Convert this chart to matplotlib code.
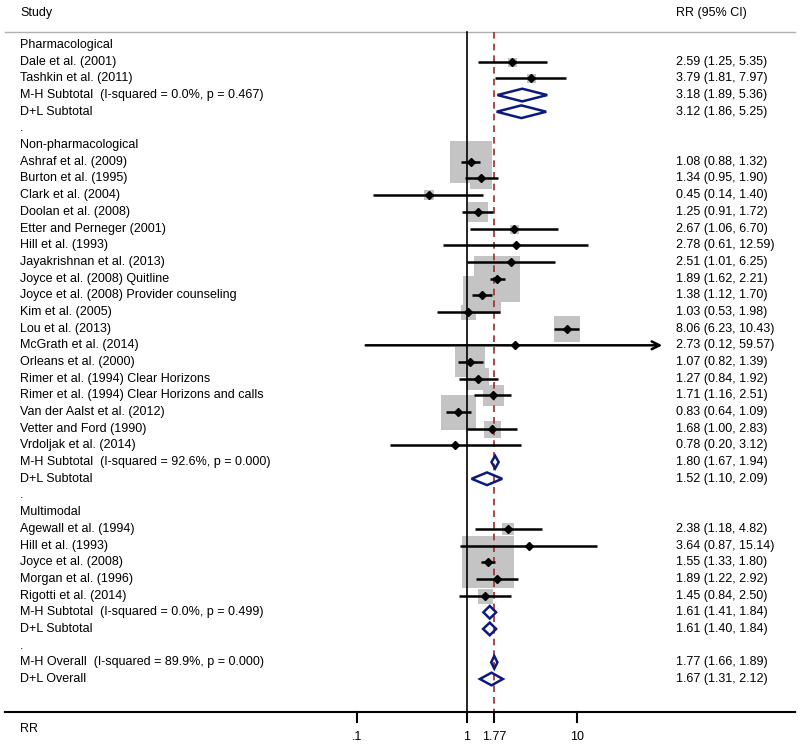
import numpy as np
import matplotlib.pyplot as plt
from matplotlib.patches import Polygon

plt.rcParams['font.family'] = ['Liberation Sans', 'DejaVu Sans']

# rows of the forest plot, top to bottom
labels = [
    'Pharmacological', 'Dale et al. (2001)', 'Tashkin et al. (2011)',
    'M-H Subtotal  (I-squared = 0.0%, p = 0.467)', 'D+L Subtotal', '.',
    'Non-pharmacological', 'Ashraf et al. (2009)', 'Burton et al. (1995)',
    'Clark et al. (2004)', 'Doolan et al. (2008)', 'Etter and Perneger (2001)',
    'Hill et al. (1993)', 'Jayakrishnan et al. (2013)', 'Joyce et al. (2008) Quitline',
    'Joyce et al. (2008) Provider counseling', 'Kim et al. (2005)', 'Lou et al. (2013)',
    'McGrath et al. (2014)', 'Orleans et al. (2000)', 'Rimer et al. (1994) Clear Horizons',
    'Rimer et al. (1994) Clear Horizons and calls', 'Van der Aalst et al. (2012)',
    'Vetter and Ford (1990)', 'Vrdoljak et al. (2014)',
    'M-H Subtotal  (I-squared = 92.6%, p = 0.000)', 'D+L Subtotal', '.',
    'Multimodal', 'Agewall et al. (1994)', 'Hill et al. (1993)', 'Joyce et al. (2008)',
    'Morgan et al. (1996)', 'Rigotti et al. (2014)',
    'M-H Subtotal  (I-squared = 0.0%, p = 0.499)', 'D+L Subtotal', '.',
    'M-H Overall  (I-squared = 89.9%, p = 0.000)', 'D+L Overall',
]
# kind: h = heading / blank, s = study, p = pooled
kinds = ['h', 's', 's', 'p', 'p', 'h',
         'h'] + ['s'] * 18 + ['p', 'p', 'h',
         'h'] + ['s'] * 5 + ['p', 'p', 'h', 'p', 'p']
rr = [None, 2.59, 3.79, 3.18, 3.12, None,
      None, 1.08, 1.34, 0.45, 1.25, 2.67, 2.78, 2.51, 1.89, 1.38, 1.03, 8.06, 2.73,
      1.07, 1.27, 1.71, 0.83, 1.68, 0.78, 1.80, 1.52, None,
      None, 2.38, 3.64, 1.55, 1.89, 1.45, 1.61, 1.61, None, 1.77, 1.67]
lo = [None, 1.25, 1.81, 1.89, 1.86, None,
      None, 0.88, 0.95, 0.14, 0.91, 1.06, 0.61, 1.01, 1.62, 1.12, 0.53, 6.23, 0.12,
      0.82, 0.84, 1.16, 0.64, 1.00, 0.20, 1.67, 1.10, None,
      None, 1.18, 0.87, 1.33, 1.22, 0.84, 1.41, 1.40, None, 1.66, 1.31]
hi = [None, 5.35, 7.97, 5.36, 5.25, None,
      None, 1.32, 1.90, 1.40, 1.72, 6.70, 12.59, 6.25, 2.21, 1.70, 1.98, 10.43, 59.57,
      1.39, 1.92, 2.51, 1.09, 2.83, 3.12, 1.94, 2.09, None,
      None, 4.82, 15.14, 1.80, 2.92, 2.50, 1.84, 1.84, None, 1.89, 2.12]
# weight box sizes (pixels, side)
box_px = [0, 9, 9, 0, 0, 0,
          0, 43, 23, 10, 20, 9, 3, 11, 47, 38, 15, 27, 0,
          30, 23, 21, 35, 17, 4, 0, 0, 0,
          0, 12, 4, 53, 18, 15, 0, 0, 0, 0, 0]
overall = 1.77

fig = plt.figure(figsize=(8, 7.48), dpi=100)
ax = fig.add_axes([0, 0, 1, 1])
ax.set_xscale('log')
ax.set_xlim(10 ** (-467 / 110), 10 ** (333 / 110))
ax.set_ylim(42.135, -2.697)
ax.axis('off')

n = len(labels)
rows = np.arange(n)
FS = 9

# header
ax.text(0.025, -1.92, 'Study', transform=ax.get_yaxis_transform(), fontsize=FS, va='center')
ax.text(0.845, -1.92, 'RR (95% CI)', transform=ax.get_yaxis_transform(), fontsize=FS, va='center')
ax.plot([0.006, 0.994], [-0.78, -0.78], transform=ax.get_yaxis_transform(),
        color='#b0b0b0', lw=1)

# reference lines
ax.plot([1, 1], [-0.8, 40], color='black', lw=1.2, zorder=2)
ax.plot([overall, overall], [-0.8, 40], color='#a3282c', lw=1.2,
        dashes=(4, 3), zorder=2)

# weight boxes
for r, k, v, b in zip(rows, kinds, rr, box_px):
    if k == 's' and b > 0:
        ax.scatter([v], [r], marker='s', s=(b * 0.72) ** 2, color='#c4c4c4',
                   linewidths=0, zorder=1)

# studies
for r, k, v, l, h in zip(rows, kinds, rr, lo, hi):
    if k != 's':
        continue
    if h > 50:
        ax.annotate('', xy=(h, r), xytext=(l, r),
                    arrowprops=dict(arrowstyle='->', lw=1.8, color='black',
                                    shrinkA=0, shrinkB=0, mutation_scale=14), zorder=3)
    else:
        ax.plot([l, h], [r, r], color='black', lw=1.8, solid_capstyle='butt', zorder=3)
    ax.plot([v], [r], marker='D', ms=4.5, color='black', zorder=4)

# pooled diamonds
for r, k, v, l, h in zip(rows, kinds, rr, lo, hi):
    if k != 'p':
        continue
    dh = 0.38
    poly = Polygon([(l, r), (v, r - dh), (h, r), (v, r + dh)], closed=True,
                   fill=False, edgecolor='#0a1a80', lw=1.8, zorder=5)
    ax.add_patch(poly)

# row labels and estimates
for r, lab, k, v, l, h in zip(rows, labels, kinds, rr, lo, hi):
    ax.text(0.025, r, lab, transform=ax.get_yaxis_transform(), fontsize=FS, va='center')
    if v is not None:
        ax.text(0.845, r, f'{v:.2f} ({l:.2f}, {h:.2f})',
                transform=ax.get_yaxis_transform(), fontsize=FS, va='center')

# bottom axis
ax.plot([0.006, 0.994], [40, 40], transform=ax.get_yaxis_transform(),
        color='black', lw=1.5)
tick_vals = [0.1, 1, overall, 10]
tick_labs = ['.1', '1', '1.77', '10']
for tv, tl in zip(tick_vals, tick_labs):
    ax.plot([tv, tv], [40, 40.6], color='black', lw=1.5)
    ax.text(tv, 41.5, tl, fontsize=FS, ha='center', va='center')
ax.text(0.025, 41.0, 'RR', transform=ax.get_yaxis_transform(), fontsize=FS, va='center')

fig.savefig('out.png', dpi=100)
